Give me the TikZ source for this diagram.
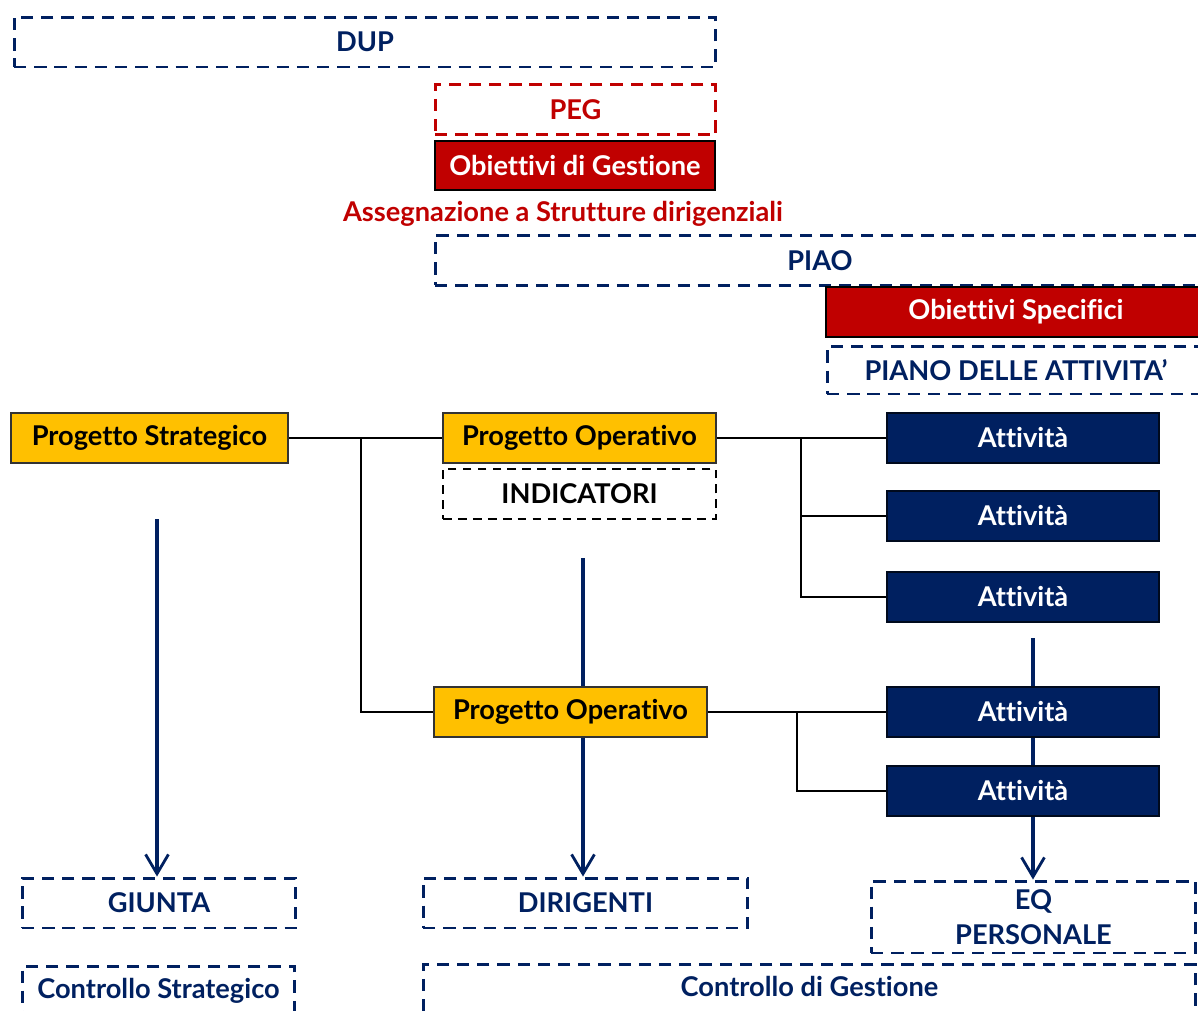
\documentclass[tikz,border=0pt]{standalone}
\usepackage{fontspec}
\setmainfont{Lato}[Ligatures=NoCommon]
\usetikzlibrary{arrows.meta,backgrounds}

\definecolor{navy}{HTML}{002060}
\definecolor{darkred}{HTML}{C00000}
\definecolor{gold}{HTML}{FFC000}

\begin{document}
\begin{tikzpicture}[
  x=0.02cm, y=-0.02cm,
  font=\fontsize{15.5}{18}\selectfont\bfseries,
  >={Straight Barb[length=11pt,width=13pt,line width=1.6pt]},
  dashbox/.style={draw=navy, text=navy, line width=1.7pt, dash pattern=on 7pt off 4.5pt, align=center, minimum height=1.0cm},
  pegbox/.style={dashbox, draw=darkred, text=darkred},
  indbox/.style={draw=black, line width=1.1pt, dash pattern=on 5pt off 3.5pt, align=center, minimum height=1.0cm},
  redbox/.style={draw=black, line width=1.1pt, fill=darkred, text=white, align=center, minimum height=1.0cm},
  projbox/.style={draw=black!80, line width=1.1pt, fill=gold, text=black, minimum width=5.46cm, minimum height=1.0cm},
  actbox/.style={draw=black!70!navy, line width=0.8pt, fill=navy, text=white, minimum width=5.44cm, minimum height=1.0cm},
  note/.style={text=darkred},
  link/.style={draw=black, line width=1.1pt},
  flow/.style={->, draw=navy, line width=2.3pt}
]
\clip (0,0) rectangle (1198,1011);

% planning documents
\node[dashbox, minimum width=14.04cm] (dup) at (365,42) {DUP};
\node[pegbox, minimum width=5.62cm] (peg) at (575.5,109.5) {PEG};
\node[redbox, minimum width=5.6cm, minimum height=0.98cm] (obgest) at (575,165.5) {Obiettivi di Gestione};
\node[note] (assegn) at (563,214) {Assegnazione a Strutture dirigenziali};
\node[dashbox, minimum width=15.4cm] (piao) at (820,260.5) {PIAO};
\node[redbox, minimum width=7.6cm] (obspec) at (1016,312) {Obiettivi Specifici};
\node[dashbox, minimum width=7.56cm, minimum height=0.96cm] (piano) at (1016,370) {PIANO DELLE ATTIVITA’};

% projects
\node[projbox, minimum width=5.54cm] (ps) at (149.5,438) {Progetto Strategico};
\node[projbox] (po1) at (579.5,438) {Progetto Operativo};
\node[indbox, minimum width=5.46cm] (ind) at (579.5,494) {INDICATORI};
\node[projbox] (po2) at (570.5,712) {Progetto Operativo};

% activities
\node[actbox] (a1) at (1023,438) {Attività};
\node[actbox] (a2) at (1023,516) {Attività};
\node[actbox] (a3) at (1023,597) {Attività};
\node[actbox] (a4) at (1023,712) {Attività};
\node[actbox] (a5) at (1023,791) {Attività};

% actors and controls
\node[dashbox, minimum width=5.48cm] (giunta) at (159,903) {GIUNTA};
\node[dashbox, minimum width=6.5cm] (dirig) at (585.5,903) {DIRIGENTI};
\node[dashbox, minimum width=6.5cm, minimum height=1.44cm] (eq) at (1033.5,917) {EQ\\[2pt]PERSONALE};
\node[dashbox, anchor=north, minimum width=5.46cm, minimum height=0pt, text height=11pt, text depth=30pt, inner ysep=7pt] (cstrat) at (158.5,965) {Controllo Strategico};
\node[dashbox, anchor=north, minimum width=15.46cm, minimum height=0pt, text height=11pt, text depth=30pt, inner ysep=7pt] (cgest) at (809.5,963) {Controllo di Gestione};

% tree links
\coordinate (j1) at (361,438);
\coordinate (j2) at (801,438);
\coordinate (j3) at (797,712);
\draw[link] (ps.east) -- (po1.west);
\draw[link] (j1) |- (po2.west);
\draw[link] (po1.east) -- (a1.west);
\draw[link] (j2) |- (a2.west);
\draw[link] (j2) |- (a3.west);
\draw[link] (po2.east) -- (a4.west);
\draw[link] (j3) |- (a5.west);

% responsibility arrows
\coordinate (s1) at (157,519);
\coordinate (s2) at (583,558);
\coordinate (s3) at (1033,638);
\begin{scope}[on background layer]
\draw[flow] (s1) -- (s1 |- giunta.north);
\draw[flow] (s2) -- (s2 |- dirig.north);
\draw[flow] (s3) -- (s3 |- eq.north);
\end{scope}

\end{tikzpicture}
\end{document}
